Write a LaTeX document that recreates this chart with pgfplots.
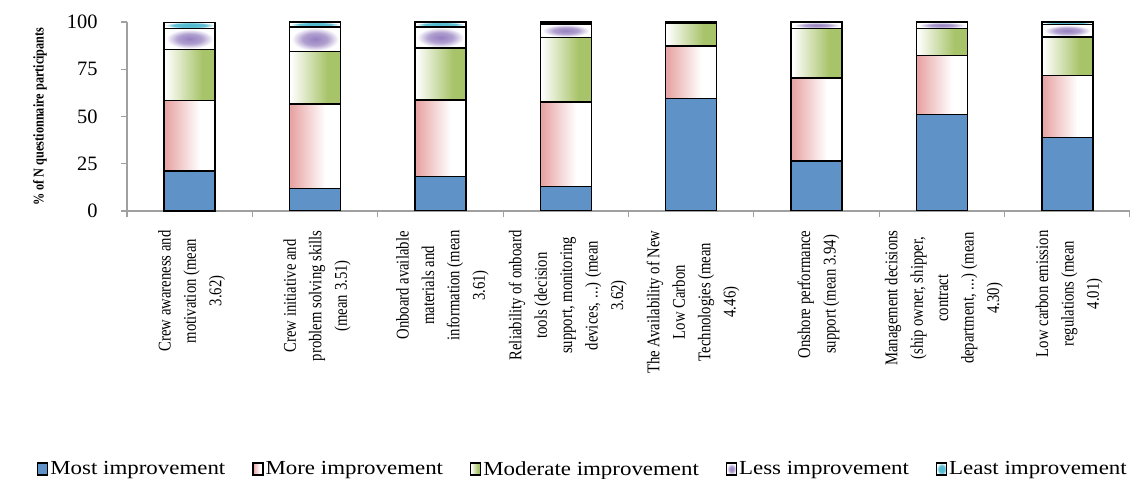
\documentclass[border=0pt]{standalone}
\usepackage{fontspec}
\setmainfont{Liberation Serif}
\newfontfamily\labfont[FakeStretch=0.82]{Liberation Serif}
\newfontfamily\legfont[FakeStretch=1.15]{Liberation Serif}
\usepackage{pgfplots}
\pgfplotsset{compat=1.18}

\definecolor{mostblue}{RGB}{95,147,200}
\definecolor{morepink}{RGB}{232,165,165}
\definecolor{modgreen}{RGB}{168,196,106}
\definecolor{lesspurple}{RGB}{150,128,192}
\definecolor{leastcyan}{RGB}{72,182,206}
\definecolor{axisgray}{RGB}{160,160,160}

\pgfdeclarehorizontalshading{moreshade}{100bp}{color(0bp)=(morepink); color(27bp)=(morepink); color(60bp)=(white); color(100bp)=(white)}
\pgfdeclarehorizontalshading{modshade}{100bp}{color(0bp)=(white); color(26bp)=(white); color(62bp)=(modgreen); color(100bp)=(modgreen)}
\pgfdeclareradialshading{lessshade}{\pgfpoint{0bp}{0bp}}{color(0bp)=(lesspurple); color(12bp)=(lesspurple!75); color(23bp)=(white); color(50bp)=(white)}
\pgfdeclareradialshading{leastshade}{\pgfpoint{0bp}{0bp}}{color(0bp)=(leastcyan); color(16bp)=(leastcyan!85); color(24bp)=(white); color(50bp)=(white)}

\newcommand{\dd}{.\kern0.3pt.\kern0.3pt.}

% every bar stack sits in its own axis so that each bar gets its own shading
\pgfplotsset{
  base/.style={at={(0,0)}, anchor=south west,
    scale only axis, width=1003bp, height=189bp,
    ybar stacked, bar width=51bp,
    xmin=0.5, xmax=8.5, ymin=0, ymax=100},
  smost/.style={draw=black, line width=1.6bp, fill=mostblue},
  smore/.style={draw=black, line width=1.6bp, shade, shading=moreshade},
  smod/.style={draw=black, line width=1.6bp, shade, shading=modshade},
  sless/.style={draw=black, line width=1.6bp, shade, shading=lessshade},
  sleast/.style={draw=black, line width=1.6bp, shade, shading=leastshade},
}
% #1 category, #2 most, #3 more, #4 moderate, #5 less, #6 least
\newcommand{\stackbar}[6]{%
  \addplot[smost]  coordinates {(#1,#2)};
  \addplot[smore]  coordinates {(#1,#3)};
  \addplot[smod]   coordinates {(#1,#4)};
  \addplot[sless]  coordinates {(#1,#5)};
  \addplot[sleast] coordinates {(#1,#6)};
}

\begin{document}
\begin{tikzpicture}
\useasboundingbox (-127bp,-268bp) rectangle (1003bp,211bp);
\begin{axis}[
  base,
  axis x line*=bottom, axis y line*=left,
  axis line style={draw=axisgray, line width=1.2bp},
  tick align=outside,
  major tick length=6bp,
  tick style={draw=axisgray, line width=1.2bp},
  xtick={0.5,1.5,2.5,3.5,4.5,5.5,6.5,7.5,8.5}, xticklabels={},
  extra x ticks={1,2,3,4,5,6,7,8},
  extra x tick style={major tick length=0pt, tick style={draw=none}},
  extra x tick labels={
    {Crew awareness and\\motivation (mean\\3.62)},
    {Crew initiative and\\problem solving skills\\(mean 3.51)},
    {Onboard available\\materials and\\information (mean\\3.61)},
    {Reliability of onboard\\tools (decision\\support, monitoring\\devices, \dd) (mean\\3.62)},
    {The Availability of New\\Low Carbon\\Technologies (mean\\4.46)},
    {Onshore performance\\support (mean 3.94)},
    {Management decisions\\(ship owner, shipper,\\contract\\department, \dd) (mean\\4.30)},
    {Low carbon emission\\regulations (mean\\4.01)}},
  xticklabel style={yshift=-16bp, xshift=2bp, rotate=90, anchor=east, align=center,
    font=\labfont\fontsize{18}{25.5}\selectfont},
  ytick={0,25,50,75,100},
  yticklabel style={font=\fontsize{20.5}{24}\selectfont, xshift=-20bp},
  /pgf/number format/assume math mode=true,
  ylabel={\textbf{\% of N questionnaire participants}},
  every axis y label/.style={at={(axis description cs:0,0.5)}, xshift=-87bp,
    rotate=90, anchor=center, font=\labfont\fontsize{15}{18}\selectfont},
  legend columns=5,
  legend style={at={(axis description cs:0.4546,-1.365)}, anchor=center, draw=none,
    font=\legfont\fontsize{20}{22}\selectfont,
    /tikz/every even column/.append style={column sep=25bp}},
  legend image code/.code={\draw[#1, line width=1.2bp] (0bp,-6bp) rectangle (10bp,6bp);},
]
\stackbar{1}{21.2}{37.2}{27.1}{11.1}{3.4}
\legend{Most improvement, More improvement, Moderate improvement, Less improvement, Least improvement}
\end{axis}
\begin{axis}[base, hide axis]\stackbar{2}{12.0}{44.6}{27.7}{13.2}{2.5}\end{axis}
\begin{axis}[base, hide axis]\stackbar{3}{18.2}{40.5}{27.4}{11.4}{2.5}\end{axis}
\begin{axis}[base, hide axis]\stackbar{4}{12.9}{44.9}{34.1}{7.1}{1.0}\end{axis}
\begin{axis}[base, hide axis]\stackbar{5}{59.6}{27.7}{12.0}{0.7}{0.0}\end{axis}
\begin{axis}[base, hide axis]\stackbar{6}{26.6}{43.9}{26.1}{3.4}{0.0}\end{axis}
\begin{axis}[base, hide axis]\stackbar{7}{51.1}{31.1}{14.4}{3.4}{0.0}\end{axis}
\begin{axis}[base, hide axis]\stackbar{8}{38.8}{32.8}{20.6}{6.4}{1.4}\end{axis}
\end{tikzpicture}
\end{document}
